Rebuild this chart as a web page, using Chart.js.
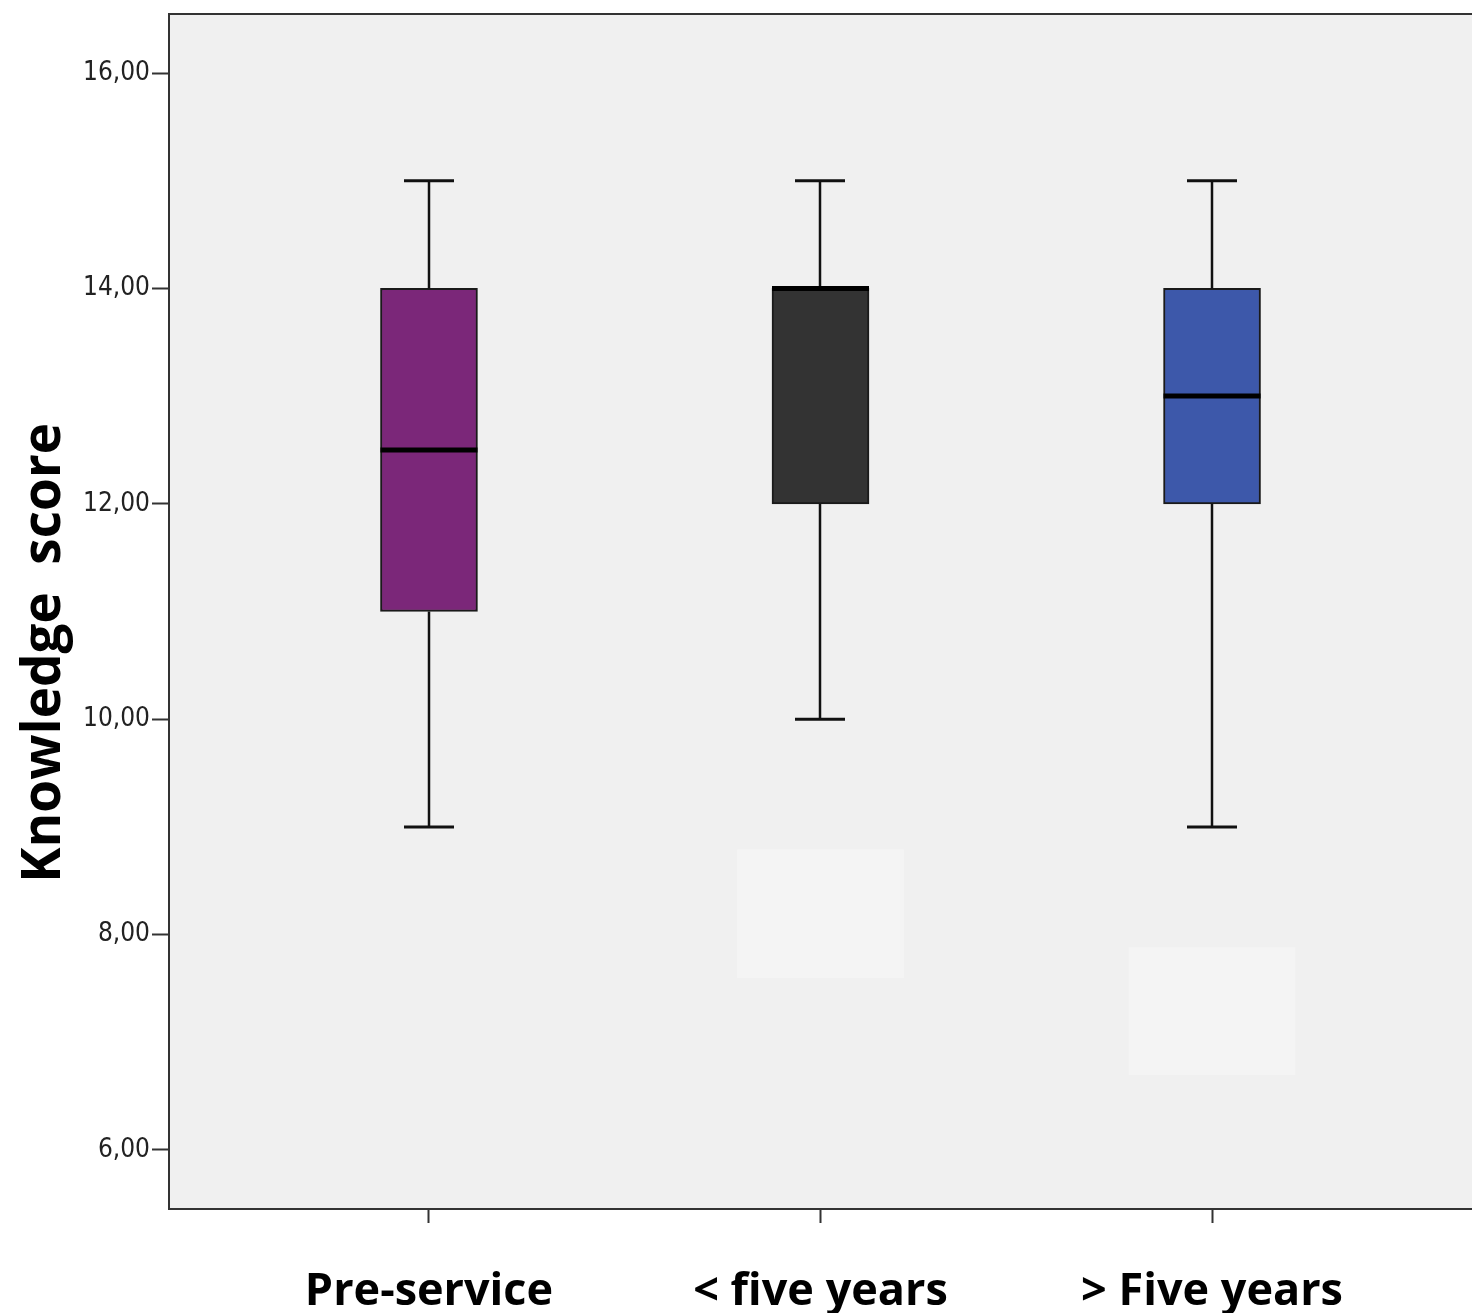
<!DOCTYPE html>
<html>
<head>
<meta charset="utf-8">
<script src="https://cdn.jsdelivr.net/npm/chart.js@4.4.0/dist/chart.umd.min.js"></script>
<style>
  html, body { margin: 0; padding: 0; background: #ffffff; }
  #wrap { width: 1472px; height: 1313px; }
</style>
</head>
<body>
<div id="wrap"><canvas id="chart" width="1472" height="1313"></canvas></div>
<script>
// boxplot summary per group
const categories = ['Pre-service', '< five years', '> Five years'];
const whiskerMin = [9, 10, 9];
const q1 = [11, 12, 12];
const medians = [12.5, 14, 13];
const q3 = [14, 14, 14];
const whiskerMax = [15, 15, 15];
const yTicks = [6, 8, 10, 12, 14, 16];

// faint erased patches (outlier markers masked out in the source image)
const maskCats = [2, 3];
const maskLow = [7.6, 6.7];
const maskHigh = [8.79, 7.88];

const boxColors = ['#7b2779', '#333333', '#3d58aa'];
const lineColor = '#111111';

const boxData = categories.map((c, i) => ({ x: i + 1, y: [q1[i], q3[i]] }));
const maskData = maskCats.map((x, i) => ({ x: x, y: [maskLow[i], maskHigh[i]] }));

const frame = {
    id: 'frame',
    beforeDraw(chart) {
        const { ctx, chartArea: a } = chart;
        ctx.save();
        ctx.fillStyle = '#f0f0f0';
        ctx.fillRect(a.left, a.top, a.right - a.left, a.bottom - a.top);
        ctx.restore();
    },
    afterDraw(chart) {
        const { ctx, chartArea: a } = chart;
        ctx.save();
        ctx.strokeStyle = '#333333';
        ctx.lineWidth = 2;
        ctx.beginPath();
        ctx.moveTo(a.left, a.top);
        ctx.lineTo(a.right, a.top);
        ctx.stroke();
        ctx.restore();
    }
};

// whiskers, caps and medians, placed with the chart's own scales
const whiskers = {
    id: 'whiskers',
    afterDatasetsDraw(chart) {
        const { ctx, scales: { x, y } } = chart;
        const meta = chart.getDatasetMeta(1);
        ctx.save();
        categories.forEach((c, i) => {
            const cx = Math.round(x.getPixelForValue(i + 1));
            const bar = meta.data[i];
            const half = bar.width / 2;
            const capHalf = 25;
            ctx.strokeStyle = lineColor;
            ctx.lineWidth = 2.5;
            ctx.beginPath();
            ctx.moveTo(cx, y.getPixelForValue(q3[i]));
            ctx.lineTo(cx, y.getPixelForValue(whiskerMax[i]));
            ctx.moveTo(cx, y.getPixelForValue(q1[i]));
            ctx.lineTo(cx, y.getPixelForValue(whiskerMin[i]));
            ctx.stroke();
            ctx.lineWidth = 3;
            ctx.beginPath();
            ctx.moveTo(cx - capHalf, y.getPixelForValue(whiskerMax[i]));
            ctx.lineTo(cx + capHalf, y.getPixelForValue(whiskerMax[i]));
            ctx.moveTo(cx - capHalf, y.getPixelForValue(whiskerMin[i]));
            ctx.lineTo(cx + capHalf, y.getPixelForValue(whiskerMin[i]));
            ctx.stroke();
            ctx.strokeStyle = '#000000';
            ctx.lineWidth = 5;
            ctx.beginPath();
            ctx.moveTo(bar.x - half, y.getPixelForValue(medians[i]));
            ctx.lineTo(bar.x + half, y.getPixelForValue(medians[i]));
            ctx.stroke();
        });
        ctx.restore();
    }
};

new Chart(document.getElementById('chart'), {
    type: 'bar',
    data: {
        datasets: [
            {
                data: maskData,
                backgroundColor: '#f4f4f4',
                borderWidth: 0,
                barThickness: 166,
                grouped: false
            },
            {
                data: boxData,
                backgroundColor: boxColors,
                borderColor: '#1a1a1a',
                borderWidth: 2,
                borderSkipped: false,
                barThickness: 97,
                grouped: false
            }
        ]
    },
    options: {
        responsive: false,
        devicePixelRatio: 1,
        animation: false,
        layout: { padding: { top: 14, right: 0, bottom: 0, left: 0 } },
        plugins: {
            legend: { display: false },
            tooltip: { enabled: false }
        },
        scales: {
            x: {
                type: 'linear',
                min: 0.336,
                max: 3.664,
                offset: false,
                afterFit: (scale) => { scale.height = 104; },
                afterBuildTicks: (scale) => {
                    scale.ticks = categories.map((c, i) => ({ value: i + 1 }));
                },
                grid: {
                    offset: false,
                    drawOnChartArea: false,
                    drawTicks: true,
                    tickLength: 14,
                    tickWidth: 2,
                    tickColor: '#333333'
                },
                border: { display: true, color: '#333333', width: 2 },
                ticks: {
                    padding: 42,
                    color: '#000000',
                    maxRotation: 0,
                    autoSkip: false,
                    font: { family: "'Open Sans', sans-serif", size: 45, weight: 'bold' },
                    callback: (v) => categories[v - 1]
                }
            },
            y: {
                min: 5.452,
                max: 16.548,
                afterFit: (scale) => { scale.width = 169; },
                afterBuildTicks: (scale) => {
                    scale.ticks = yTicks.map(v => ({ value: v }));
                },
                grid: {
                    drawOnChartArea: false,
                    drawTicks: true,
                    tickLength: 17,
                    tickWidth: 2,
                    tickColor: '#333333'
                },
                border: { display: true, color: '#333333', width: 2 },
                ticks: {
                    padding: 2,
                    color: '#222222',
                    font: { family: "'Liberation Sans Narrow', 'DejaVu Sans Condensed', sans-serif", size: 26, lineHeight: 0.9 },
                    callback: (v) => v.toFixed(2).replace('.', ',')
                },
                title: {
                    display: true,
                    // trailing spaces push the rotated title down, as in the source
                    text: 'Knowledge  score      ',
                    color: '#000000',
                    padding: { top: 13, bottom: 0 },
                    font: { family: "'Open Sans', sans-serif", size: 53, weight: 'bold' }
                }
            }
        }
    },
    plugins: [frame, whiskers]
});
</script>
</body>
</html>
